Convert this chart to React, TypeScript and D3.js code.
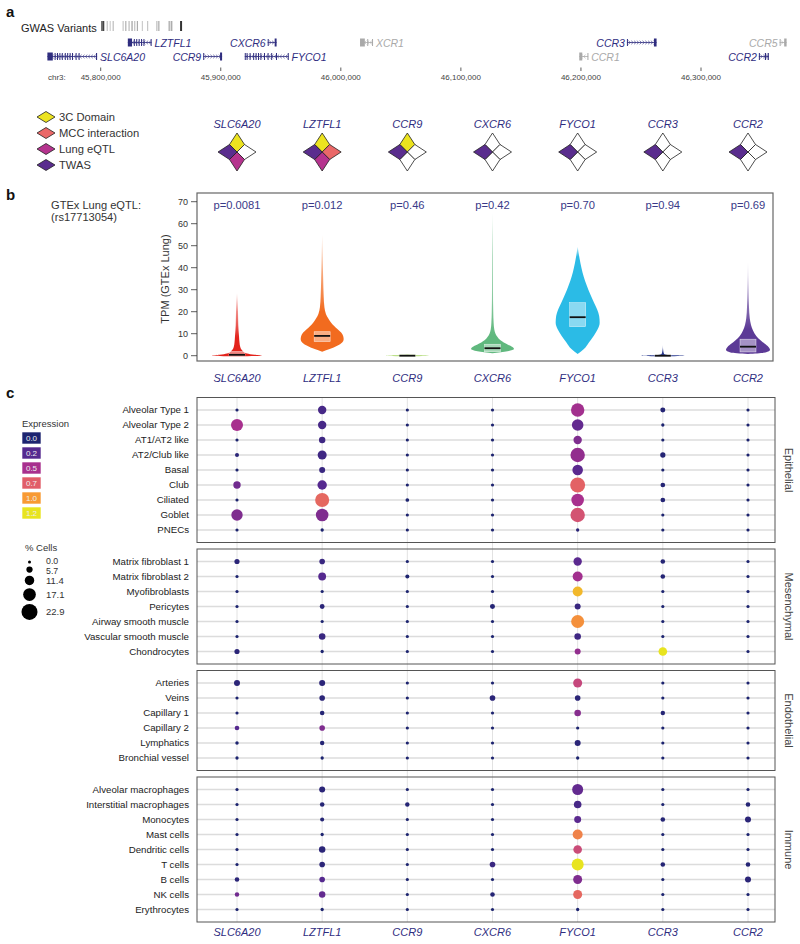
import React from 'react';
import * as d3 from 'd3';

const FONT = '"Liberation Sans", Arial, Helvetica, sans-serif';
const NAVY = '#2f2d7f';
const GREY_GENE = '#a9a9a9';

// ---------- shared gene columns ----------
const genes = ['SLC6A20', 'LZTFL1', 'CCR9', 'CXCR6', 'FYCO1', 'CCR3', 'CCR2'];

// ---------- panel a: genome track ----------
const axisTicks = [45800000, 45900000, 46000000, 46100000, 46200000, 46300000];
const variantPositions = [45800830, 45802150, 45805450, 45807930, 45810410, 45818680, 45820910, 45823640, 45826110, 45828350, 45830580, 45834710, 45839090, 45846780, 45848430, 45857270, 45859170, 45866940];
const variantShades = ['#666', '#444', '#c4c4c4', '#cfcfcf', '#bdbdbd', '#c8c8c8', '#b0b0b0', '#bbbbbb', '#a0a0a0', '#c0c0c0', '#aaaaaa', '#cccccc', '#c6c6c6', '#bdbdbd', '#a8a8a8', '#b8b8b8', '#a0a0a0', '#333'];
const variantThick = [false, true, false, false, false, false, false, false, false, false, false, false, false, false, false, true, false, true];

const trackGenes = ['SLC6A20', 'LZTFL1', 'CCR9', 'FYCO1', 'CXCR6', 'XCR1', 'CCR1', 'CCR3', 'CCR2', 'CCR5'];
const trackStarts = [45755600, 45822600, 45885400, 45920000, 45939100, 46016000, 46198600, 46238300, 46348200, 46365500];
const trackEnds = [45797000, 45842400, 45901100, 45956500, 45946500, 46026700, 46206000, 46263000, 46356500, 46371300];
const trackStrands = ['-', '-', '+', '-', '+', '-', '-', '+', '+', '+'];
const trackRows = [2, 1, 2, 2, 1, 1, 2, 1, 2, 1];
const trackHighlighted = [true, true, true, true, true, false, false, true, true, false];
const trackLabelSide = ['right', 'right', 'left', 'right', 'left', 'right', 'right', 'left', 'left', 'left'];
// exon blocks in kb from gene start
const trackExons: number[][][] = [
  [[0, 4.5], [6, 6.8], [8, 8.8], [10, 10.8], [12, 12.8], [14.5, 15.3], [16.5, 17.3], [18.5, 19.3], [20.5, 21.3], [23.5, 24.3], [26, 26.8], [40.5, 41.4]],
  [[0, 3.5], [5, 5.8], [7, 7.8], [9, 9.8], [11, 11.8], [13, 13.8], [19, 19.8]],
  [[0, 0.6], [14, 15.7]],
  [[0, 0.8], [1.5, 2.2], [4, 4.7], [7, 7.6], [9, 9.6], [11, 11.6], [13, 13.6], [16, 16.6], [19, 19.6], [22, 22.6], [26, 26.6], [35.8, 36.5]],
  [[0, 0.6], [5.8, 7.4]],
  [[0, 4], [6, 6.6], [10, 10.7]],
  [[0, 2.5], [6.8, 7.4]],
  [[0, 0.6], [22.5, 24.7]],
  [[0, 0.7], [5, 6], [7.3, 8.3]],
  [[0, 0.6], [3.8, 5.8]],
];

// ---------- panel a: evidence glyphs ----------
const evidenceNames = ['3C Domain', 'MCC interaction', 'Lung eQTL', 'TWAS'];
const evidenceColors = ['#ece31f', '#ea6868', '#b5338e', '#5a2d8e'];
const evidence3C = [1, 1, 1, 0, 0, 0, 0];
const evidenceMCC = [0, 1, 0, 0, 0, 0, 0];
const evidenceEQTL = [1, 1, 0, 0, 0, 0, 0];
const evidenceTWAS = [1, 1, 1, 1, 1, 1, 1];

// ---------- panel b: violins ----------
const pValues = ['p=0.0081', 'p=0.012', 'p=0.46', 'p=0.42', 'p=0.70', 'p=0.94', 'p=0.69'];
const violinColors = ['#e3231c', '#f26b1f', '#bde08c', '#60b87e', '#2bbbe6', '#2a3a8f', '#5c3a96'];
const tpmTicks = [0, 10, 20, 30, 40, 50, 60, 70];
const violinLevels: number[][] = [
  [-0.3, 0, 0.4, 1, 1.5, 2.5, 4, 6, 9, 14, 20, 28.5],
  [1.8, 3, 4.5, 6, 7.5, 9, 10.5, 12, 13.5, 15, 17, 19, 22, 27, 35, 45, 55],
  [-0.3, 0, 0.3, 0.6],
  [1.1, 2, 3, 4, 5, 6, 7, 8.5, 10, 12, 15, 20, 30, 45, 65],
  [0.8, 3, 6, 9, 12, 15, 18, 21, 24, 28, 32, 36, 40, 44, 49.5],
  [-0.3, 0, 0.3, 0.8, 2, 5],
  [0.8, 1.5, 2.6, 4, 5.5, 7, 9, 11.5, 14, 17, 22, 30, 42.7],
];
const violinDensity: number[][] = [
  [0, 1.0, 0.7, 0.4, 0.3, 0.2, 0.13, 0.1, 0.08, 0.05, 0.04, 0],
  [0, 0.3, 0.6, 0.8, 0.86, 0.84, 0.76, 0.62, 0.48, 0.36, 0.24, 0.15, 0.09, 0.06, 0.04, 0.02, 0],
  [0, 0.86, 0.5, 0],
  [0, 0.6, 0.86, 0.8, 0.62, 0.45, 0.32, 0.2, 0.12, 0.07, 0.045, 0.03, 0.02, 0.015, 0],
  [0, 0.25, 0.45, 0.64, 0.8, 0.88, 0.86, 0.78, 0.66, 0.5, 0.36, 0.24, 0.15, 0.08, 0],
  [0, 0.86, 0.2, 0.05, 0.02, 0],
  [0, 0.7, 0.88, 0.82, 0.66, 0.5, 0.33, 0.2, 0.12, 0.07, 0.04, 0.02, 0],
];
const boxLow = [0.1, 6.4, 0, 1.8, 13.2, 0, 1.7];
const boxHigh = [1.9, 10.9, 0.15, 5.2, 24.1, 0.15, 7.5];
const medians = [0.4, 9.0, 0, 3.4, 17.5, 0, 4.1];
const fadeStart = [8, 20, 70, 9, 45, 2, 12];
const fadeEnd = [28.5, 55, 70, 65, 50, 5, 42.7];

// ---------- panel c: dot plot ----------
const cellGroups = ['Epithelial', 'Mesenchymal', 'Endothelial', 'Immune'];
const epithelialTypes = ['Alveolar Type 1', 'Alveolar Type 2', 'AT1/AT2 like', 'AT2/Club like', 'Basal', 'Club', 'Ciliated', 'Goblet', 'PNECs'];
const mesenchymalTypes = ['Matrix fibroblast 1', 'Matrix fibroblast 2', 'Myofibroblasts', 'Pericytes', 'Airway smooth muscle', 'Vascular smooth muscle', 'Chondrocytes'];
const endothelialTypes = ['Arteries', 'Veins', 'Capillary 1', 'Capillary 2', 'Lymphatics', 'Bronchial vessel'];
const immuneTypes = ['Alveolar macrophages', 'Interstitial macrophages', 'Monocytes', 'Mast cells', 'Dendritic cells', 'T cells', 'B cells', 'NK cells', 'Erythrocytes'];

const epithelialPct = [
  [0.3, 9.5, 0.3, 0.3, 18.3, 3.5, 0.3],
  [15.9, 9.5, 0.3, 0.3, 15.1, 0.5, 0.3],
  [0.3, 6.0, 0.3, 0.3, 9.5, 0.3, 0.3],
  [1.8, 10.6, 0.3, 0.3, 20.1, 4.0, 0.3],
  [0.3, 5.3, 0.3, 0.3, 13.4, 0.3, 0.3],
  [7.8, 11.3, 0.3, 0.3, 21.1, 3.0, 0.3],
  [0.3, 19.4, 1.2, 0.3, 16.9, 3.0, 0.3],
  [14.8, 16.9, 0.3, 0.3, 20.1, 0.3, 0.3],
  [0.3, 0.5, 0.3, 0.3, 0.6, 0.3, 0.3],
];
const epithelialExpr = [
  [0, 0.15, 0, 0, 0.48, 0.03, 0],
  [0.5, 0.15, 0, 0, 0.25, 0, 0],
  [0, 0.12, 0, 0, 0.35, 0, 0],
  [0.05, 0.12, 0, 0, 0.42, 0.03, 0],
  [0, 0.1, 0, 0, 0.22, 0, 0],
  [0.3, 0.2, 0, 0, 0.72, 0.03, 0],
  [0, 0.75, 0, 0, 0.5, 0.03, 0],
  [0.35, 0.35, 0, 0, 0.65, 0, 0],
  [0, 0, 0, 0, 0.05, 0, 0],
];
const mesenchymalPct = [
  [3.8, 4.6, 0.3, 0.3, 9.5, 2.8, 0.3],
  [0.3, 8.5, 1.8, 0.3, 12.3, 2.8, 0.3],
  [0.3, 0.3, 0.3, 0.3, 12.3, 0.3, 0.3],
  [0.3, 3.2, 0.3, 3.5, 5.3, 0.3, 0.3],
  [0.3, 0.3, 0.3, 0.3, 17.6, 0.3, 0.3],
  [0.3, 6.3, 0.3, 0.3, 6.3, 0.3, 0.3],
  [3.8, 0.5, 0.3, 0.3, 5.3, 9.9, 0.3],
];
const mesenchymalExpr = [
  [0.05, 0.1, 0, 0, 0.22, 0.03, 0],
  [0, 0.2, 0, 0, 0.48, 0.03, 0],
  [0, 0, 0, 0, 1.08, 0, 0],
  [0, 0.05, 0, 0.03, 0.1, 0, 0],
  [0, 0, 0, 0, 0.95, 0, 0],
  [0, 0.1, 0, 0, 0.12, 0, 0],
  [0.05, 0, 0, 0, 0.42, 1.2, 0],
];
const endothelialPct = [
  [5.3, 5.3, 0.3, 0.3, 10.6, 0.3, 0.3],
  [0.3, 4.6, 0.3, 4.6, 4.6, 0.3, 0.3],
  [0.3, 2.8, 0.3, 0.3, 6.3, 2.5, 0.3],
  [2.8, 4.6, 0.3, 0.3, 0.3, 0.3, 0.3],
  [0.8, 2.5, 0.3, 0.3, 5.3, 0.3, 0.3],
  [0.5, 0.5, 0.3, 0.3, 0.5, 0.3, 0.3],
];
const endothelialExpr = [
  [0.05, 0.05, 0, 0, 0.6, 0, 0],
  [0, 0.05, 0, 0.05, 0.05, 0, 0],
  [0, 0.03, 0, 0, 0.38, 0.03, 0],
  [0.2, 0.35, 0, 0, 0, 0, 0],
  [0, 0.03, 0, 0, 0.05, 0, 0],
  [0, 0, 0, 0, 0, 0, 0],
];
const immunePct = [
  [0.3, 5.3, 0.3, 0.3, 14.1, 0.3, 0.3],
  [0.3, 2.8, 2.5, 0.3, 8.1, 0.3, 2.8],
  [0.3, 1.8, 0.3, 0.3, 7.0, 2.8, 5.3],
  [0.3, 0.5, 0.3, 0.3, 12.3, 0.3, 0.3],
  [0.3, 6.0, 0.3, 0.3, 9.9, 0.3, 0.3],
  [0.3, 4.6, 0.3, 4.6, 15.9, 2.8, 2.8],
  [2.8, 4.6, 0.3, 0.3, 10.6, 0.3, 5.3],
  [2.5, 6.0, 0.3, 2.8, 10.6, 0.3, 0.3],
  [0.3, 0.5, 0.3, 0.3, 0.5, 0.3, 0.3],
];
const immuneExpr = [
  [0, 0.05, 0, 0, 0.25, 0, 0],
  [0, 0.03, 0.03, 0, 0.15, 0, 0.03],
  [0, 0.03, 0, 0, 0.22, 0.03, 0.05],
  [0, 0, 0, 0, 0.88, 0, 0],
  [0, 0.05, 0, 0, 0.62, 0, 0],
  [0, 0.05, 0, 0.1, 1.2, 0.03, 0.03],
  [0.05, 0.2, 0, 0, 0.35, 0, 0.05],
  [0.3, 0.25, 0, 0.03, 0.75, 0, 0],
  [0, 0, 0, 0, 0, 0, 0],
];

const exprStops = [0, 0.2, 0.5, 0.7, 1.0, 1.2];
const exprStopColors = ['#1d2470', '#55298f', '#a8308e', '#e15e69', '#f89a33', '#e8e41f'];
const exprLegendLabels = ['0.0', '0.2', '0.5', '0.7', '1.0', '1.2'];
const sizeLegendValues = [0, 5.7, 11.4, 17.1, 22.9];
const sizeLegendLabels = ['0.0', '5.7', '11.4', '17.1', '22.9'];

export default function App() {
  const W = 800;
  const H = 944;

  const xTrack = d3.scaleLinear().domain([45800000, 46300000]).range([100.7, 701]);
  const xGene = d3.scalePoint<string>().domain(genes).range([237, 748]);
  const color = d3.scaleLinear<string>().domain(exprStops).range(exprStopColors).clamp(true);
  const rSize = d3.scaleLinear().domain([0, 22.9]).range([1.5, 8]);

  // panel b scales
  const yTpm = d3.scaleLinear().domain([0, 70]).range([355.7, 201.7]);
  const halfW = d3.scaleLinear().domain([0, 1]).range([0, 25]);

  // panel c layout
  const groupTypes = [epithelialTypes, mesenchymalTypes, endothelialTypes, immuneTypes];
  const groupPct = [epithelialPct, mesenchymalPct, endothelialPct, immunePct];
  const groupExpr = [epithelialExpr, mesenchymalExpr, endothelialExpr, immuneExpr];
  const cTop = 397.5, rowStep = 15, pad = 12.5, gap = 6.5;
  const cLeft = 197, cRight = 775;
  let cursor = cTop;
  const groupLayout = groupTypes.map((types) => {
    const top = cursor;
    const bottom = top + pad * 2 + (types.length - 1) * rowStep;
    const rowY = d3.scaleLinear().domain([0, types.length - 1]).range([top + pad, bottom - pad]);
    cursor = bottom + gap;
    return { top, bottom, rowY };
  });
  const cBottom = groupLayout[groupLayout.length - 1].bottom;

  const petal = (dir: number) => {
    const pts: [number, number][] = [[0, 0], [-7.5, -7.5], [0, -19], [7.5, -7.5]];
    const a = (dir * Math.PI) / 2;
    const c = Math.cos(a), s = Math.sin(a);
    return 'M' + pts.map(([x, y]) => `${(x * c - y * s).toFixed(2)},${(x * s + y * c).toFixed(2)}`).join('L') + 'Z';
  };
  // petal directions: 0 = top (3C), 1 = right (MCC), 2 = bottom (eQTL), 3 = left (TWAS)
  const evidenceFlags = [evidence3C, evidenceMCC, evidenceEQTL, evidenceTWAS];

  const violinArea = (gi: number) => {
    const cx = xGene(genes[gi]) as number;
    const pts = violinLevels[gi].map((lv, i) => ({ lv, w: violinDensity[gi][i] }));
    return d3
      .area<{ lv: number; w: number }>()
      .y((d) => yTpm(d.lv))
      .x0((d) => cx - Math.max(halfW(d.w), d.w > 0 ? 0.5 : 0))
      .x1((d) => cx + Math.max(halfW(d.w), d.w > 0 ? 0.5 : 0))
      .curve(d3.curveMonotoneY)(pts) as string;
  };

  // size legend layout (key height grows with circle size)
  const sizeLegendY: number[] = [];
  sizeLegendValues.forEach((v, i) => {
    sizeLegendY.push(i === 0 ? 562 : sizeLegendY[i - 1] + rSize(sizeLegendValues[i - 1]) + rSize(v) + 3);
  });
  const sizeLabelY = sizeLegendY.map((y, i) => (i === 0 ? y - 1.2 : i === 1 ? y + 1.5 : y));

  return (
    <div style={{ position: 'absolute', left: 0, top: 0 }}>
      <svg width={W} height={H} style={{ display: 'block', fontFamily: FONT }}>
        <rect width={W} height={H} fill="#fff" />
        <defs>
          {genes.map((g, gi) => (
            <linearGradient key={g} id={`vfade${gi}`} gradientUnits="userSpaceOnUse" x1="0" x2="0" y1={yTpm(0)} y2={yTpm(70)}>
              <stop offset={Math.min(1, fadeStart[gi] / 70)} stopColor={violinColors[gi]} stopOpacity={1} />
              <stop offset={Math.min(1, fadeEnd[gi] / 70)} stopColor={violinColors[gi]} stopOpacity={0.18} />
              <stop offset={1} stopColor={violinColors[gi]} stopOpacity={0.18} />
            </linearGradient>
          ))}
        </defs>

        {/* ================= panel a ================= */}
        <text x={6} y={17} fontSize={15} fontWeight="bold" fill="#111">a</text>
        <text x={21} y={32} fontSize={11} fill="#222">GWAS Variants</text>
        {variantPositions.map((p, i) => (
          <rect key={i} x={xTrack(p) - (variantThick[i] ? 1 : 0.6)} y={21} width={variantThick[i] ? 2 : 1.2} height={10} fill={variantShades[i]} />
        ))}

        {trackGenes.map((name, gi) => {
          const x0 = xTrack(trackStarts[gi]);
          const x1 = xTrack(trackEnds[gi]);
          const y = trackRows[gi] === 1 ? 42.5 : 56.5;
          const col = trackHighlighted[gi] ? NAVY : GREY_GENE;
          const dir = trackStrands[gi] === '+' ? 1 : -1;
          const chev = d3.range(x0 + 2.5, x1 - 1.5, 2.8);
          return (
            <g key={name}>
              <line x1={x0} x2={x1} y1={y} y2={y} stroke={col} strokeWidth={0.8} />
              {chev.map((cx, k) => (
                <path key={k} d={`M${cx - dir * 1},${y - 1.8}L${cx + dir * 1},${y}L${cx - dir * 1},${y + 1.8}`} fill="none" stroke={col} strokeWidth={0.6} />
              ))}
              {trackExons[gi].map(([a, b], k) => {
                const ex0 = xTrack(trackStarts[gi] + a * 1000);
                const ex1 = xTrack(trackStarts[gi] + b * 1000);
                const big = b - a > 1.2;
                return <rect key={k} x={ex0} y={y - (big ? 4 : 3.5)} width={Math.max(1, ex1 - ex0)} height={big ? 8 : 7} fill={col} />;
              })}
              <text
                x={trackLabelSide[gi] === 'right' ? x1 + 3 : x0 - 2}
                y={y + 4}
                fontSize={10.5}
                fontStyle="italic"
                textAnchor={trackLabelSide[gi] === 'right' ? 'start' : 'end'}
                fill={col}
              >
                {name}
              </text>
            </g>
          );
        })}

        <text x={48} y={80} fontSize={8} fill="#444">chr3:</text>
        {axisTicks.map((t) => (
          <g key={t}>
            <line x1={xTrack(t)} x2={xTrack(t)} y1={67.5} y2={71} stroke="#333" strokeWidth={0.8} />
            <text x={xTrack(t)} y={80} fontSize={8} textAnchor="middle" fill="#444">{d3.format(',')(t)}</text>
          </g>
        ))}

        {/* evidence legend */}
        {evidenceNames.map((n, i) => {
          const y = 117 + i * 16;
          return (
            <g key={n}>
              <path d={`M37,${y}L46,${y - 5.5}L55,${y}L46,${y + 5.5}Z`} fill={evidenceColors[i]} stroke="#222" strokeWidth={0.8} />
              <text x={59} y={y + 4} fontSize={11.2} fill="#333">{n}</text>
            </g>
          );
        })}

        {/* evidence glyphs */}
        {genes.map((g, gi) => {
          const cx = xGene(g) as number;
          return (
            <g key={g}>
              <text x={cx} y={127.5} fontSize={11} fontStyle="italic" textAnchor="middle" fill={NAVY}>{g}</text>
              <g transform={`translate(${cx},152)`}>
                {evidenceFlags.map((flags, dir) => (
                  <path key={dir} d={petal(dir)} fill={flags[gi] ? evidenceColors[dir] : '#fff'} stroke="#222" strokeWidth={0.8} strokeLinejoin="round" />
                ))}
              </g>
            </g>
          );
        })}

        {/* ================= panel b ================= */}
        <text x={6} y={200} fontSize={15} fontWeight="bold" fill="#111">b</text>
        <text x={51} y={209} fontSize={11.1} fill="#333">GTEx Lung eQTL:</text>
        <text x={51} y={221} fontSize={11.1} fill="#333">(rs17713054)</text>
        <rect x={197} y={193} width={576} height={168} fill="none" stroke="#666" strokeWidth={1.2} />
        {tpmTicks.map((t) => (
          <g key={t}>
            <line x1={191} x2={197} y1={yTpm(t)} y2={yTpm(t)} stroke="#333" strokeWidth={0.8} />
            <text x={188} y={yTpm(t) + 3.2} fontSize={9} textAnchor="end" fill="#333">{t}</text>
          </g>
        ))}
        <text transform={`translate(166,279) rotate(-90)`} fontSize={11} textAnchor="middle" dominantBaseline="middle" fill="#333">
          TPM (GTEx Lung)
        </text>
        {genes.map((g, gi) => {
          const cx = xGene(g) as number;
          return (
            <g key={g}>
              <path d={violinArea(gi)} fill={`url(#vfade${gi})`} />
              <rect
                x={cx - 8}
                y={yTpm(boxHigh[gi])}
                width={16}
                height={Math.max(0.5, yTpm(boxLow[gi]) - yTpm(boxHigh[gi]))}
                fill="#fff"
                fillOpacity={0.45}
                stroke="#fff"
                strokeOpacity={0.7}
                strokeWidth={0.6}
              />
              <line x1={cx - 8} x2={cx + 8} y1={yTpm(medians[gi])} y2={yTpm(medians[gi])} stroke="#111" strokeWidth={1.8} />
              <text x={cx} y={209} fontSize={11.2} textAnchor="middle" fill="#3a3a88">{pValues[gi]}</text>
              <text x={cx} y={382} fontSize={11} fontStyle="italic" textAnchor="middle" fill={NAVY}>{g}</text>
            </g>
          );
        })}

        {/* ================= panel c ================= */}
        <text x={6} y={398} fontSize={15} fontWeight="bold" fill="#111">c</text>

        {/* expression legend */}
        <text x={22} y={427} fontSize={9.5} fill="#333">Expression</text>
        {exprStops.map((v, i) => (
          <g key={v}>
            <rect x={22} y={432 + i * 15} width={19} height={12} fill={color(v)} stroke="#fff" strokeWidth={0.6} />
            <text x={31.5} y={432 + i * 15 + 9} fontSize={8} textAnchor="middle" fill="#eee">{exprLegendLabels[i]}</text>
          </g>
        ))}

        {/* size legend */}
        <text x={25} y={551} fontSize={9.5} fill="#333">% Cells</text>
        {sizeLegendValues.map((v, i) => (
          <g key={v}>
            <circle cx={29.5} cy={sizeLegendY[i]} r={rSize(v)} fill="#000" />
            <text x={46} y={sizeLabelY[i] + 3.1} fontSize={i < 2 ? 8.8 : 9.5} fill="#333">{sizeLegendLabels[i]}</text>
          </g>
        ))}

        {/* vertical grid */}
        {genes.map((g) => (
          <line key={g} x1={xGene(g)} x2={xGene(g)} y1={cTop} y2={cBottom} stroke="#e2e2e2" strokeWidth={1} />
        ))}

        {groupLayout.map((gl, gi) => (
          <g key={cellGroups[gi]}>
            {groupTypes[gi].map((t, ri) => {
              const y = gl.rowY(ri);
              return (
                <g key={t}>
                  <line x1={cLeft} x2={cRight} y1={y} y2={y} stroke="#dcdcdc" strokeWidth={1.4} />
                  <text x={189} y={y + 3.4} fontSize={9.7} textAnchor="end" fill="#222">{t}</text>
                </g>
              );
            })}
            {groupTypes[gi].map((t, ri) =>
              genes.map((g, ci) => (
                <circle
                  key={t + g}
                  cx={xGene(g)}
                  cy={gl.rowY(ri)}
                  r={rSize(groupPct[gi][ri][ci])}
                  fill={color(groupExpr[gi][ri][ci])}
                />
              ))
            )}
            <rect x={cLeft} y={gl.top} width={cRight - cLeft} height={gl.bottom - gl.top} fill="none" stroke="#555" strokeWidth={1} />
            <text
              transform={`translate(788,${(gl.top + gl.bottom) / 2}) rotate(90)`}
              fontSize={11}
              textAnchor="middle"
              dominantBaseline="middle"
              fill="#444"
            >
              {cellGroups[gi]}
            </text>
          </g>
        ))}

        {genes.map((g) => (
          <text key={g} x={xGene(g)} y={936} fontSize={11} fontStyle="italic" textAnchor="middle" fill={NAVY}>{g}</text>
        ))}
      </svg>
    </div>
  );
}
